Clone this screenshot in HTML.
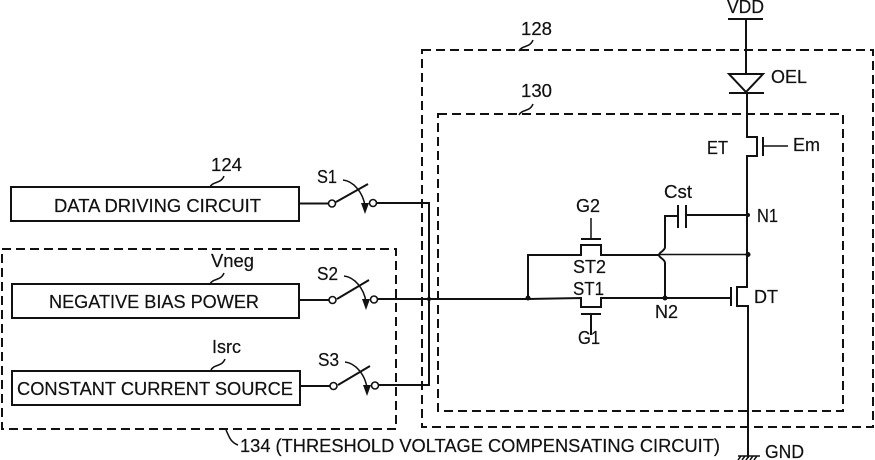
<!DOCTYPE html>
<html><head><meta charset="utf-8"><style>
html,body{margin:0;padding:0;background:#fff}
svg{display:block}
text{font-family:"Liberation Sans",sans-serif;font-size:18px;fill:#111;stroke:#111;stroke-width:.2}
.w{fill:none;stroke:#111;stroke-width:2}
.t{fill:none;stroke:#111;stroke-width:1.5}
.d{fill:none;stroke:#111;stroke-width:2;stroke-dasharray:9 5}
.c{fill:#fff;stroke:#111;stroke-width:1.6}
</style></head><body>
<svg width="875" height="460" viewBox="0 0 875 460" xmlns="http://www.w3.org/2000/svg">
<!-- dashed boxes -->
<rect class="d" x="2" y="249" width="394" height="180"/>
<rect class="d" x="422" y="50" width="451" height="377"/>
<rect class="d" x="438" y="114" width="405" height="297"/>
<!-- blocks -->
<rect class="w" x="11" y="187" width="288" height="34"/>
<rect class="w" x="12" y="284" width="287" height="34"/>
<rect class="w" x="12" y="371" width="288" height="34"/>
<text x="54" y="212" textLength="207" lengthAdjust="spacingAndGlyphs">DATA DRIVING CIRCUIT</text>
<text x="49" y="308" textLength="210" lengthAdjust="spacingAndGlyphs">NEGATIVE BIAS POWER</text>
<text x="17" y="395" textLength="276" lengthAdjust="spacingAndGlyphs">CONSTANT CURRENT SOURCE</text>
<!-- leaders -->
<path class="t" d="M210 187c3-6 11-3 14-11"/>
<path class="t" d="M210 284c3-6 11-3 14-11"/>
<path class="t" d="M211 370c3-6 11-3 14-11"/>
<path class="t" d="M519 51c3-6 11-3 14-11"/>
<path class="t" d="M519 115c3-6 11-3 14-11"/>
<path class="t" d="M226 430c3 6 4 12 12 15"/>
<!-- switches -->
<g>
<path class="w" d="M299 203.500H328"/>
<path class="w" d="M336 202L368 184"/>
<path class="t" d="M343 180c10 1 20 12 22 26"/>
<path d="M361 203L369 203L365 214Z" fill="#111"/>
<circle class="c" cx="332" cy="203.500" r="3.500"/>
<circle class="c" cx="373" cy="203" r="3.500"/>
</g>
<g>
<path class="w" d="M300 300H329"/>
<path class="w" d="M337 299L369 280"/>
<path class="t" d="M344 276c10 1 20 12 22 26"/>
<path d="M362 299L370 299L366 310Z" fill="#111"/>
<circle class="c" cx="332.500" cy="300" r="3.500"/>
<circle class="c" cx="374" cy="299.500" r="3.500"/>
</g>
<g>
<path class="w" d="M301 386H330"/>
<path class="w" d="M338 385L370 366"/>
<path class="t" d="M345 362c10 1 20 12 22 26"/>
<path d="M363 385L371 385L367 396Z" fill="#111"/>
<circle class="c" cx="333.500" cy="386" r="3.500"/>
<circle class="c" cx="375" cy="385.500" r="3.500"/>
</g>
<!-- bus -->
<path class="w" d="M376.500 203H429V385H378.500"/>
<path class="w" d="M377.500 299H528L581 298V307H601V298H731"/>
<circle cx="429" cy="299" r="2" fill="#111"/>
<circle cx="528" cy="298" r="2.500" fill="#111"/>
<!-- ST2 -->
<path class="w" d="M528 298V255H581V245H601V255H659"/>
<path class="t" d="M659 254.500H748"/>
<path class="w" d="M581 239H601"/>
<path class="t" d="M591 218V239"/>
<!-- ST1 gate -->
<path class="w" d="M581 314H601"/>
<path class="w" d="M591 314V335"/>
<!-- Cst -->
<path class="w" d="M678 216H665V247C665 251 659 252 659 255C659 258 665 259 665 263V298"/>
<path class="w" d="M678 205V228M686 205V228"/>
<path class="w" d="M686 215H748"/>
<circle cx="665" cy="298" r="2.500" fill="#111"/>
<circle cx="748" cy="215" r="2" fill="#111"/>
<circle cx="748" cy="254.500" r="2.500" fill="#111"/>
<!-- main column -->
<path class="w" d="M746 19V74"/>
<path class="w" d="M728 19H763"/>
<path class="w" d="M729 74H763L746 92Z"/>
<path class="w" d="M729 93H764"/>
<path class="w" d="M747 93V137H757V156H747V287H737V306H748V458"/>
<path class="w" d="M763 137V156"/>
<path class="t" d="M763 146H788"/>
<path class="w" d="M731 287V306"/>
<!-- ground -->
<path class="t" d="M738 456H760M738 460L741 456M742 460L745 456M746 460L749 456M750 460L753 456M754 460L757 456"/>
<!-- labels -->
<text x="211" y="171" textLength="31" lengthAdjust="spacingAndGlyphs">124</text>
<text x="317" y="183" textLength="20" lengthAdjust="spacingAndGlyphs">S1</text>
<text x="317" y="280" textLength="21" lengthAdjust="spacingAndGlyphs">S2</text>
<text x="318" y="366" textLength="21" lengthAdjust="spacingAndGlyphs">S3</text>
<text x="211" y="267" textLength="43" lengthAdjust="spacingAndGlyphs">Vneg</text>
<text x="212" y="353" textLength="29" lengthAdjust="spacingAndGlyphs">Isrc</text>
<text x="521" y="35" textLength="31" lengthAdjust="spacingAndGlyphs">128</text>
<text x="521" y="97" textLength="31" lengthAdjust="spacingAndGlyphs">130</text>
<text x="727" y="13" textLength="37" lengthAdjust="spacingAndGlyphs">VDD</text>
<text x="771" y="83" textLength="36" lengthAdjust="spacingAndGlyphs">OEL</text>
<text x="707" y="154" textLength="21" lengthAdjust="spacingAndGlyphs">ET</text>
<text x="793" y="151" textLength="27" lengthAdjust="spacingAndGlyphs">Em</text>
<text x="664" y="198" textLength="28" lengthAdjust="spacingAndGlyphs">Cst</text>
<text x="757" y="222" textLength="21" lengthAdjust="spacingAndGlyphs">N1</text>
<text x="576" y="212" textLength="24" lengthAdjust="spacingAndGlyphs">G2</text>
<text x="578" y="344" textLength="22" lengthAdjust="spacingAndGlyphs">G1</text>
<text x="573" y="273" textLength="33" lengthAdjust="spacingAndGlyphs">ST2</text>
<text x="573" y="295" textLength="31" lengthAdjust="spacingAndGlyphs">ST1</text>
<text x="655" y="318" textLength="23" lengthAdjust="spacingAndGlyphs">N2</text>
<text x="754" y="303" textLength="24" lengthAdjust="spacingAndGlyphs">DT</text>
<text x="765" y="458" textLength="39" lengthAdjust="spacingAndGlyphs">GND</text>
<text x="240" y="452" textLength="480" lengthAdjust="spacingAndGlyphs">134 (THRESHOLD VOLTAGE COMPENSATING CIRCUIT)</text>
</svg>
</body></html>
